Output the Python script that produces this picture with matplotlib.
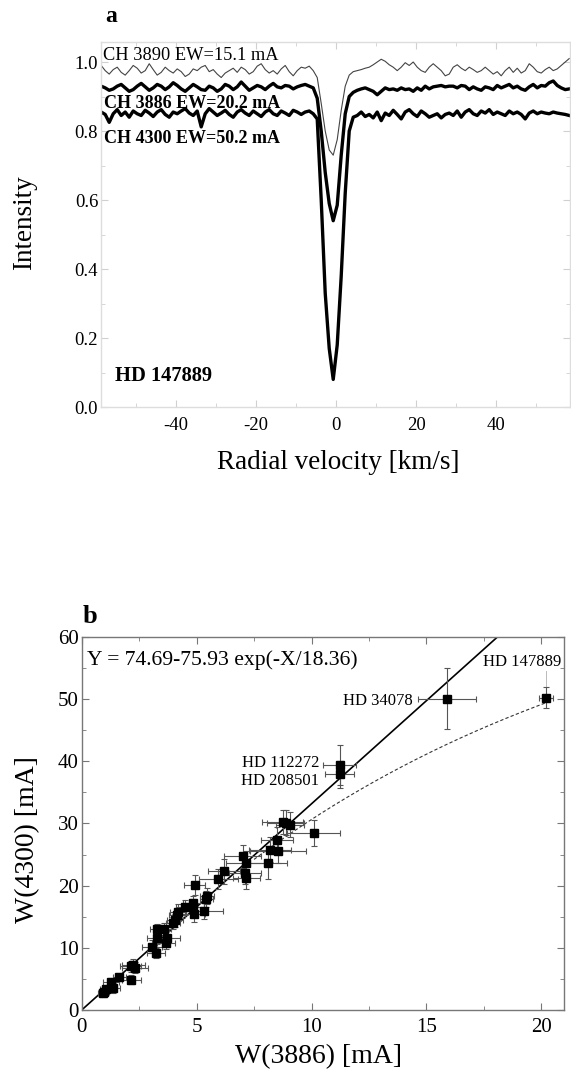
import numpy as np
import matplotlib
matplotlib.use("Agg")
import matplotlib.pyplot as plt
from matplotlib.ticker import MultipleLocator

plt.rcParams['font.family'] = ['Liberation Serif', 'DejaVu Serif']
plt.rcParams['axes.unicode_minus'] = False

# ---- panel a : CH line profiles of HD 147889 ----
v_start = -58.7   # km/s, first sample
v_step = 1.0      # km/s, sampling step

ch3890 = [0.990, 0.975, 0.965, 0.978, 0.985, 0.970, 0.962, 0.975, 0.990, 0.982,
          0.968, 0.975, 0.995, 0.978, 0.962, 0.970, 0.985, 0.975, 0.968, 0.980,
          0.972, 0.958, 0.965, 0.980, 0.975, 0.985, 0.990, 0.972, 0.978, 0.965,
          0.955, 0.968, 0.975, 0.982, 0.970, 0.985, 0.978, 0.965, 0.972, 0.988,
          0.995, 0.978, 0.968, 0.975, 0.965, 0.980, 0.990, 0.972, 0.960, 0.975,
          0.985, 0.982, 0.988,
          0.975, 0.955, 0.880, 0.800, 0.745, 0.730, 0.775, 0.860, 0.930, 0.962, 0.972,
          0.975, 0.978, 0.982, 0.985, 0.992, 1.000, 1.008, 1.002, 0.992, 0.985,
          0.975, 0.985, 0.998, 0.990, 1.000, 0.985, 0.975, 0.970, 0.985, 0.995,
          0.985, 0.975, 0.960, 0.965, 0.985, 0.992, 0.982, 0.975, 0.985, 0.978,
          0.970, 0.975, 0.985, 0.975, 0.965, 0.972, 0.960, 0.975, 0.985, 0.970,
          0.982, 0.968, 0.975, 0.995, 0.985, 0.972, 0.968, 0.978, 0.985, 0.975,
          0.980, 0.990, 1.000, 1.010]

ch3886 = [0.930, 0.925, 0.918, 0.922, 0.930, 0.935, 0.925, 0.915, 0.920, 0.930,
          0.938, 0.928, 0.918, 0.925, 0.935, 0.930, 0.920, 0.928, 0.940, 0.932,
          0.922, 0.915, 0.925, 0.935, 0.928, 0.920, 0.918, 0.930, 0.925, 0.915,
          0.922, 0.935, 0.930, 0.920, 0.928, 0.942, 0.930, 0.918, 0.925, 0.932,
          0.928, 0.920, 0.930, 0.938, 0.928, 0.925, 0.932, 0.930, 0.922, 0.928,
          0.932, 0.935, 0.930,
          0.925, 0.895, 0.800, 0.680, 0.590, 0.540, 0.585, 0.730, 0.850, 0.900, 0.912,
          0.918, 0.922, 0.925, 0.920, 0.915, 0.905, 0.915, 0.925, 0.920, 0.922,
          0.918, 0.925, 0.920, 0.922, 0.915, 0.925, 0.918, 0.930, 0.922, 0.928,
          0.930, 0.932, 0.928, 0.930, 0.930, 0.925, 0.932, 0.930, 0.920, 0.928,
          0.922, 0.918, 0.928, 0.925, 0.920, 0.932, 0.925, 0.930, 0.935, 0.925,
          0.930, 0.922, 0.918, 0.928, 0.935, 0.925, 0.932, 0.930, 0.940, 0.945,
          0.932, 0.925, 0.920, 0.922]

ch4300 = [0.855, 0.848, 0.825, 0.850, 0.862, 0.845, 0.855, 0.840, 0.858, 0.850,
          0.845, 0.860, 0.852, 0.842, 0.855, 0.862, 0.848, 0.840, 0.855, 0.850,
          0.858, 0.865, 0.852, 0.845, 0.858, 0.812, 0.850, 0.865, 0.855, 0.845,
          0.852, 0.860, 0.848, 0.840, 0.855, 0.862, 0.852, 0.845, 0.858, 0.850,
          0.842, 0.855, 0.862, 0.850, 0.845, 0.858, 0.852, 0.845, 0.860, 0.855,
          0.848, 0.855, 0.858,
          0.850, 0.835, 0.600, 0.330, 0.170, 0.080, 0.180, 0.380, 0.620, 0.800, 0.840,
          0.845, 0.855, 0.842, 0.848, 0.838, 0.855, 0.830, 0.852, 0.845, 0.860,
          0.848, 0.835, 0.855, 0.862, 0.850, 0.842, 0.858, 0.850, 0.840, 0.845,
          0.850, 0.838, 0.848, 0.852, 0.845, 0.858, 0.840, 0.855, 0.862, 0.850,
          0.845, 0.858, 0.852, 0.862, 0.848, 0.855, 0.850, 0.845, 0.858, 0.850,
          0.855, 0.848, 0.835, 0.852, 0.858, 0.850, 0.855, 0.852, 0.850, 0.855,
          0.852, 0.850, 0.848, 0.845]

# ---- panel b : equivalent widths ----
w3886 = [0.91, 0.97, 1.06, 1.38, 1.26, 1.64, 2.16, 2.13, 2.25, 2.32,
         3.06, 3.23, 3.29, 3.26, 3.57, 3.71, 3.68, 3.96, 4.06, 4.16,
         4.20, 4.51, 4.86, 4.83, 4.88, 4.91, 5.33, 5.43, 5.46, 5.94,
         6.20, 7.00, 7.09, 7.17, 7.17, 8.12, 8.19, 8.54, 8.48, 8.74,
         8.88, 9.06, 10.1, 11.23, 11.23, 15.9, 20.2]
w4300 = [2.7, 2.9, 3.4, 3.6, 4.5, 5.3, 4.9, 7.0, 7.2, 6.8,
         10.2, 9.1, 11.6, 13.0, 13.0, 11.6, 10.8, 14.0, 14.4, 15.2,
         15.7, 16.5, 17.2, 16.5, 15.5, 20.1, 15.9, 17.9, 18.4, 21.1,
         22.3, 24.7, 22.1, 21.3, 23.6, 23.7, 25.8, 25.6, 27.3, 30.2,
         30.1, 29.8, 28.5, 39.4, 37.9, 50.1, 50.2]
e3886 = [0.2, 0.2, 0.25, 0.3, 0.35, 0.3, 0.4, 0.45, 0.5, 0.55,
         0.45, 0.4, 0.45, 0.3, 0.3, 0.55, 0.4, 0.3, 0.35, 0.35,
         0.35, 0.4, 0.45, 0.5, 0.5, 0.45, 0.8, 0.3, 0.3, 0.85,
         0.7, 0.8, 0.7, 0.6, 0.9, 0.8, 0.9, 1.2, 0.7, 0.9,
         0.8, 0.6, 1.15, 0.72, 0.64, 1.25, 0.3]
e4300 = [0.6, 0.6, 0.6, 0.8, 0.7, 0.7, 0.7, 0.9, 1.0, 0.9,
         1.0, 0.8, 1.0, 0.9, 1.0, 1.1, 1.0, 1.0, 1.1, 1.2,
         1.3, 1.2, 1.2, 1.3, 1.3, 1.6, 1.3, 1.3, 1.3, 1.6,
         2.0, 1.8, 1.8, 1.8, 1.9, 2.6, 2.0, 2.0, 2.2, 1.9,
         2.0, 2.0, 2.1, 3.2, 2.2, 4.9, 1.7]

star_names = ['HD 112272', 'HD 208501', 'HD 34078', 'HD 147889']
star_idx = [43, 44, 45, 46]

slope = 3.317                               # straight line through origin
fit_a, fit_b, fit_c = 74.69, 75.93, 18.36   # Y = a - b exp(-X/c)
fit_from = 7.5                              # dashed curve drawn from here on

fig = plt.figure(figsize=(5.71, 10.74), dpi=100)

# ================= panel a =================
ax1 = fig.add_axes([0.1769, 0.6210, 0.8214, 0.3399])
vel = v_start + v_step * np.arange(len(ch3890))
ax1.plot(vel, ch3890, color='#444444', lw=0.8)
ax1.plot(vel, ch3886, color='black', lw=2.4)
ax1.plot(vel, ch4300, color='black', lw=2.4)

ax1.set_xlim(-58.75, 58.5)
ax1.set_ylim(0, 1.058)
ax1.xaxis.set_major_locator(MultipleLocator(20))
ax1.xaxis.set_minor_locator(MultipleLocator(10))
ax1.yaxis.set_major_locator(MultipleLocator(0.2))
ax1.yaxis.set_minor_locator(MultipleLocator(0.1))
ax1.yaxis.set_major_formatter(plt.FuncFormatter(lambda y, p: '%.1f' % y))
ax1.tick_params(which='both', direction='in', top=True, right=True,
                color='#d0d0d0', labelsize=13.5)
ax1.tick_params(which='major', length=5)
ax1.tick_params(which='minor', length=3)
ax1.tick_params(axis='x', pad=7)
ax1.tick_params(axis='y', pad=2)
for s in ax1.spines.values():
    s.set_color('#dddddd')
    s.set_linewidth(1.0)

ax1.set_xlabel('Radial velocity [km/s]', fontsize=19.5, va='center')
ax1.xaxis.set_label_coords(0.505, -0.151)
ax1.set_ylabel('Intensity', fontsize=19.5, va='center')
ax1.yaxis.set_label_coords(-0.164, 0.504)

ax1.text(-58.3, 1.006, 'CH 3890 EW=15.1 mA', fontsize=13.2)
ax1.text(-58.0, 0.868, 'CH 3886 EW=20.2 mA', fontsize=13.0, fontweight='bold')
ax1.text(-58.0, 0.765, 'CH 4300 EW=50.2 mA', fontsize=13.0, fontweight='bold')
ax1.text(-55.3, 0.075, 'HD 147889', fontsize=14.8, fontweight='bold')
fig.text(105 / 571, 1 - 22 / 1074, 'a', fontsize=17, fontweight='bold')

# ================= panel b =================
ax2 = fig.add_axes([0.1431, 0.0596, 0.8452, 0.3473])
xx = np.array([0, 21.0])
ax2.plot(xx, slope * xx, color='black', lw=1.2)
xf = np.linspace(fit_from, w3886[-1], 200)
ax2.plot(xf, fit_a - fit_b * np.exp(-xf / fit_c), color='#333333', lw=0.8,
         dashes=(3, 2))
ax2.errorbar(w3886, w4300, xerr=e3886, yerr=e4300, fmt='s', ms=5.5,
             mfc='black', mec='black', ecolor='#555555', elinewidth=0.8,
             capsize=2, capthick=0.8, zorder=3)

ax2.set_xlim(0, 21)
ax2.set_ylim(0, 60)
ax2.xaxis.set_major_locator(MultipleLocator(5))
ax2.xaxis.set_minor_locator(MultipleLocator(2.5))
ax2.yaxis.set_major_locator(MultipleLocator(10))
ax2.yaxis.set_minor_locator(MultipleLocator(5))
ax2.tick_params(which='both', direction='in', top=True, right=True,
                color='#777777', labelsize=15)
ax2.tick_params(which='major', length=5)
ax2.tick_params(which='minor', length=3)
ax2.tick_params(axis='x', pad=6)
ax2.tick_params(axis='y', pad=2)
for s in ax2.spines.values():
    s.set_color('#777777')
    s.set_linewidth(1.0)

ax2.set_xlabel('W(3886) [mA]', fontsize=20, va='center')
ax2.xaxis.set_label_coords(0.49, -0.126)
ax2.set_ylabel('W(4300) [mA]', fontsize=20, va='center')
ax2.yaxis.set_label_coords(-0.113, 0.456)

ax2.text(0.23, 55.5, 'Y = 74.69-75.93 exp(-X/18.36)', fontsize=15.6)
# star labels (right end of text, baseline)
lab_pos = {'HD 112272': (10.33, 39.1), 'HD 208501': (10.33, 36.2),
           'HD 34078': (14.42, 49.1), 'HD 147889': (20.87, 55.3)}
for name in star_names:
    lx, ly = lab_pos[name]
    ax2.text(lx, ly, name, fontsize=12, ha='right', va='baseline')
# leader line for HD 147889
i = star_idx[-1]
ax2.plot([w3886[i], w3886[i]], [w4300[i] + e4300[i], 54.6],
         color='#bbbbbb', lw=0.7)
fig.text(83 / 571, 1 - 623 / 1074, 'b', fontsize=19, fontweight='bold')

fig.savefig('out.png', dpi=100)
